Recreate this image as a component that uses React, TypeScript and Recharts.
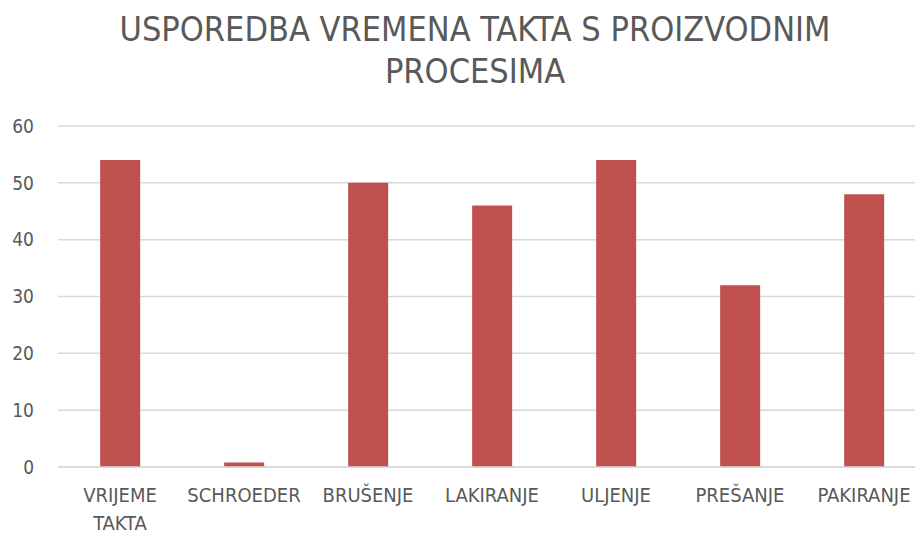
import React from "react";
import { BarChart, Bar, XAxis, YAxis, CartesianGrid, Text } from "recharts";

const categories = ["VRIJEME TAKTA", "SCHROEDER", "BRUŠENJE", "LAKIRANJE", "ULJENJE", "PREŠANJE", "PAKIRANJE"];
const values = [54, 0.8, 50, 46, 54, 32, 48];
const yTicks = [0, 10, 20, 30, 40, 50, 60];
const titleLines = ["USPOREDBA VREMENA TAKTA S PROIZVODNIM", "PROCESIMA"];

const data = categories.map((name, i) => ({ name, value: values[i] }));

const FONT = "'DejaVu Sans Condensed', 'Open Sans', sans-serif";
const GRAY = "#595959";

const CatTick = (props: any) => {
  const { x, y, payload } = props;
  return (
    <Text
      x={x}
      y={y}
      width={118}
      textAnchor="middle"
      verticalAnchor="start"
      lineHeight={28}
      fill={GRAY}
      fontSize={20}
      fontFamily={FONT}
    >
      {payload.value}
    </Text>
  );
};

export default function App() {
  return (
    <div style={{ position: "absolute", left: 0, top: 0, width: 915, height: 535, overflow: "hidden", background: "#fff" }}>
      <div
        style={{
          position: "absolute",
          left: 0,
          top: 8,
          width: 950,
          textAlign: "center",
          fontFamily: FONT,
          fontSize: 34,
          lineHeight: "42px",
          color: GRAY,
        }}
      >
        {titleLines.map((t) => (
          <div key={t}>{t}</div>
        ))}
      </div>
      <BarChart
        width={940}
        height={535}
        data={data}
        margin={{ top: 126, right: 14, left: 0, bottom: 0 }}
        barCategoryGap="34%"
      >
        <CartesianGrid vertical={false} stroke="#D9D9D9" strokeWidth={1.5} />
        <XAxis
          dataKey="name"
          axisLine={{ stroke: "#D9D9D9", strokeWidth: 1.5 }}
          tickLine={false}
          interval={0}
          tick={<CatTick />}
          tickMargin={15}
          height={68}
        />
        <YAxis
          width={58}
          domain={[0, 60]}
          ticks={yTicks}
          axisLine={false}
          tickLine={false}
          tickSize={0}
          tickMargin={24}
          tick={{ fill: GRAY, fontSize: 19, fontFamily: FONT }}
        />
        <Bar dataKey="value" fill="#C0504D" isAnimationActive={false} />
      </BarChart>
    </div>
  );
}
